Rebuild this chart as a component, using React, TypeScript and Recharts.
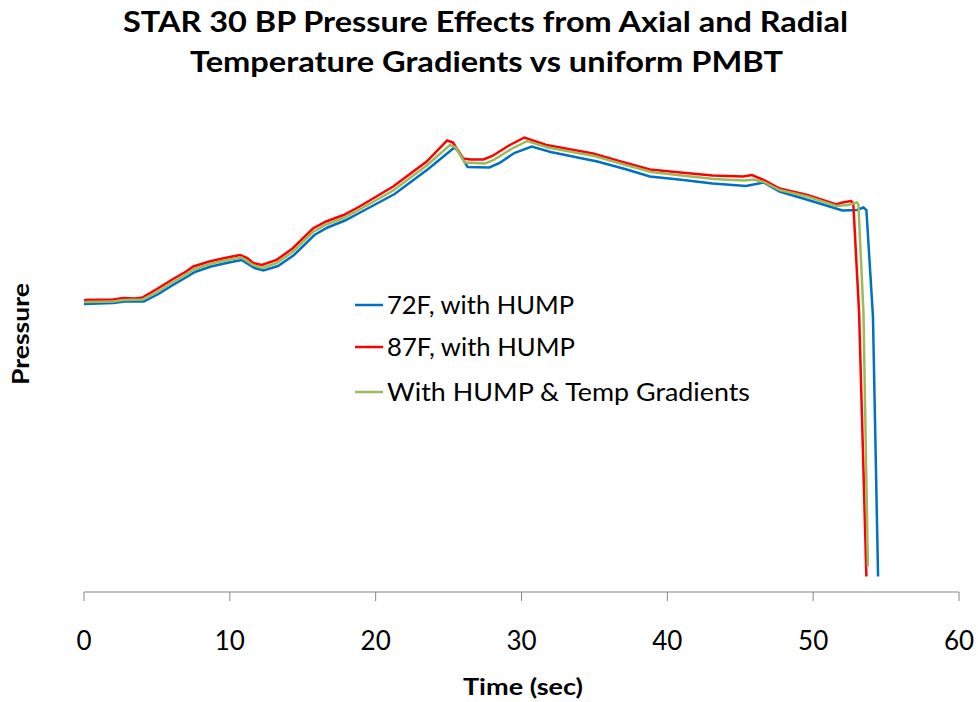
import React from 'react';
import { LineChart, Line, XAxis, YAxis } from 'recharts';

const titleLines = ['STAR 30 BP Pressure Effects from Axial and Radial', 'Temperature Gradients vs uniform PMBT'];
const xTitle = 'Time (sec)';
const yTitle = 'Pressure';
const xTicks = [0, 10, 20, 30, 40, 50, 60];
const seriesNames = ['72F, with HUMP', '87F, with HUMP', 'With HUMP & Temp Gradients'];
const seriesColors = ['#0070C0', '#FF0000', '#9BBB59'];

const blueT = [0, 2, 2.8, 4.1, 5.1, 6.1, 7.1, 7.6, 8.7, 10.1, 10.8, 11.7, 12.3, 13.3, 14.4, 15.8, 16.7, 17.9, 19, 21.3, 23.6, 25.4, 25.7, 26.3, 27.8, 28.5, 29.5, 30.7, 32, 35.2, 37.1, 38.8, 41.1, 43.1, 45.4, 46.6, 47.7, 50, 52, 53, 53.45, 53.65, 54.1, 54.45];
const blueV = [57.6, 57.8, 58.1, 58.1, 59.6, 61.4, 63.1, 64.0, 65.1, 66.0, 66.4, 64.8, 64.3, 65.2, 67.4, 71.4, 72.9, 74.3, 76.0, 79.6, 84.6, 88.9, 88.0, 85.0, 84.9, 85.8, 87.8, 89.1, 88.0, 86.1, 84.6, 83.1, 82.4, 81.7, 81.2, 81.9, 80.1, 78.1, 76.3, 76.4, 76.9, 76.4, 55.1, 3.1];

const redT = [0, 2, 2.7, 3.5, 4, 5, 6, 7, 7.5, 8.6, 9.5, 10, 10.7, 11.2, 11.6, 12.2, 13.2, 14.3, 15.7, 16.6, 17.8, 18.9, 21.2, 23.5, 24.9, 25.3, 26, 26.5, 27.4, 28, 29.2, 30.2, 31.7, 34.9, 36.8, 38.8, 40.9, 43.1, 45.2, 45.8, 46.6, 47.7, 49.6, 51.6, 52, 52.6, 52.75, 53.15, 53.65];
const redV = [58.4, 58.5, 58.8, 58.7, 58.9, 60.6, 62.4, 64.1, 65.1, 66.1, 66.7, 67.0, 67.4, 66.8, 65.8, 65.4, 66.4, 68.7, 72.7, 74.1, 75.4, 77.1, 81.1, 86.1, 90.3, 89.9, 86.7, 86.5, 86.5, 87.2, 89.4, 90.9, 89.4, 87.7, 86.1, 84.5, 83.9, 83.3, 83.1, 83.4, 82.4, 80.7, 79.4, 77.5, 77.9, 78.2, 77.8, 55.8, 3.1];

const greenT = [0, 2, 2.7, 4, 5, 6, 7, 7.5, 8.6, 10, 10.8, 11.6, 12.2, 13.2, 14.3, 15.7, 16.6, 17.8, 18.9, 21.2, 23.5, 25.1, 25.5, 26.1, 27.5, 28.1, 29.3, 30.4, 31.8, 35, 36.9, 38.9, 41, 43.2, 45.3, 45.9, 46.6, 47.7, 49.6, 51.6, 52.4, 53, 53.1, 53.45, 53.75];
const greenV = [58.0, 58.1, 58.4, 58.5, 60.0, 61.8, 63.5, 64.5, 65.6, 66.5, 66.9, 65.4, 64.8, 65.8, 68.0, 72.0, 73.5, 74.8, 76.5, 80.3, 85.3, 89.4, 88.9, 85.9, 85.7, 86.4, 88.6, 90.2, 88.9, 87.2, 85.6, 84.0, 83.3, 82.6, 82.3, 82.5, 82.0, 80.4, 79.1, 77.2, 77.4, 77.9, 77.5, 55.8, 5.1];

const toRows = (ts: number[], vs: number[]) => ts.map((t, i) => ({ t, v: vs[i] }));
const series = [toRows(blueT, blueV), toRows(redT, redV), toRows(greenT, greenV)];

const FONT = 'Lato, "Open Sans", sans-serif';

const TickLabel = (props: any) => {
  const { x, y, payload } = props;
  return (
    <text x={x} y={y + 47} textAnchor="middle" fontSize={26} fontFamily={FONT} fill="#000">
      {payload.value}
    </text>
  );
};

const legendLens = [187, 188, 363];
const legendY = [305, 347, 392];

export default function App() {
  return (
    <div style={{ position: 'absolute', left: 0, top: 0, width: 978, height: 702, background: '#fff' }}>
      <LineChart width={978} height={702} margin={{ top: 92, right: 19, bottom: 0, left: 84 }}>
        <XAxis
          dataKey="t"
          type="number"
          domain={[0, 60]}
          ticks={xTicks}
          allowDataOverflow
          height={110}
          tickSize={9}
          stroke="#868686"
          axisLine={{ stroke: '#868686', strokeWidth: 1 }}
          tickLine={{ stroke: '#868686', strokeWidth: 1 }}
          tick={<TickLabel />}
        />
        <YAxis type="number" domain={[0, 100]} hide width={0} />
        {series.map((rows, i) => (
          <Line
            key={seriesNames[i]}
            data={rows}
            dataKey="v"
            name={seriesNames[i]}
            type="linear"
            stroke={seriesColors[i]}
            strokeWidth={2.5}
            dot={false}
            activeDot={false}
            isAnimationActive={false}
          />
        ))}
      </LineChart>
      <svg width={978} height={702} style={{ position: 'absolute', left: 0, top: 0, pointerEvents: 'none' }}>
        <text x={485.5} y={32} textAnchor="middle" fontSize={28} fontWeight="bold" fontFamily={FONT} fill="#000" textLength={725} lengthAdjust="spacingAndGlyphs">
          {titleLines[0]}
        </text>
        <text x={486.5} y={72} textAnchor="middle" fontSize={28} fontWeight="bold" fontFamily={FONT} fill="#000" textLength={593} lengthAdjust="spacingAndGlyphs">
          {titleLines[1]}
        </text>
        <text x={523} y={695} textAnchor="middle" fontSize={22} fontWeight="bold" fontFamily={FONT} fill="#000" textLength={120} lengthAdjust="spacingAndGlyphs">
          {xTitle}
        </text>
        <text x={0} y={0} transform="translate(29,334) rotate(-90)" textAnchor="middle" fontSize={22} fontWeight="bold" fontFamily={FONT} fill="#000" textLength={102} lengthAdjust="spacingAndGlyphs">
          {yTitle}
        </text>
        {seriesNames.map((name, i) => (
          <g key={name}>
            <line x1={355} x2={383} y1={legendY[i]} y2={legendY[i]} stroke={seriesColors[i]} strokeWidth={2.5} />
            <text x={387} y={legendY[i] + 9} fontSize={25} fontFamily={FONT} fill="#000" textLength={legendLens[i]} lengthAdjust="spacingAndGlyphs">
              {name}
            </text>
          </g>
        ))}
      </svg>
    </div>
  );
}
